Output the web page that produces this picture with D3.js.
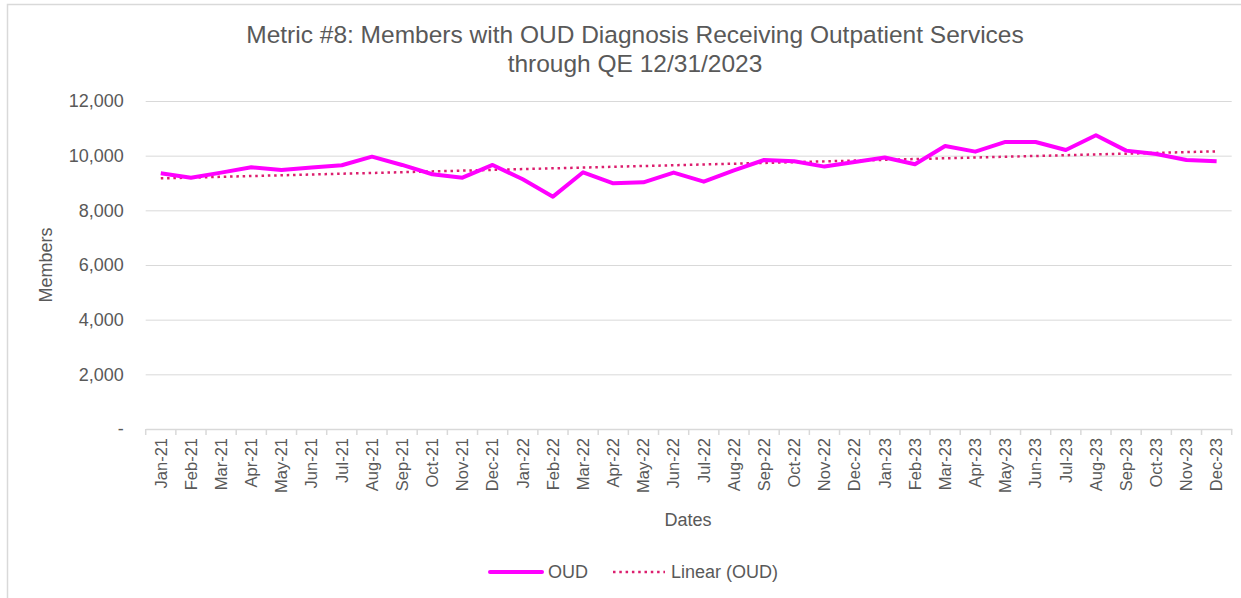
<!DOCTYPE html>
<html><head><meta charset="utf-8">
<script src="https://cdn.jsdelivr.net/npm/d3@7"></script>
<style>
body{margin:0;background:#fff;}
svg{display:block;font-family:"Liberation Sans",Arial,sans-serif;}
</style></head>
<body><svg id="c" width="1241" height="598"></svg>
<script>
const months = ["Jan-21","Feb-21","Mar-21","Apr-21","May-21","Jun-21","Jul-21","Aug-21","Sep-21","Oct-21","Nov-21","Dec-21",
"Jan-22","Feb-22","Mar-22","Apr-22","May-22","Jun-22","Jul-22","Aug-22","Sep-22","Oct-22","Nov-22","Dec-22",
"Jan-23","Feb-23","Mar-23","Apr-23","May-23","Jun-23","Jul-23","Aug-23","Sep-23","Oct-23","Nov-23","Dec-23"];
const oud = [9356,9195,9380,9576,9477,9566,9649,9964,9660,9319,9195,9660,
9136,8500,9392,8990,9026,9380,9049,9465,9842,9795,9600,9770,
9935,9685,10355,10147,10502,10502,10209,10746,10184,10062,9842,9795];
const yTicks = [0,2000,4000,6000,8000,10000,12000];
const titleLines = ["Metric #8: Members with OUD Diagnosis Receiving Outpatient Services","through QE 12/31/2023"];

const svg = d3.select("#c");
const txt = "#595959", grid = "#d9d9d9";
// chart border
svg.append("rect").attr("x",7.5).attr("y",4.5).attr("width",1260).attr("height",620)
  .attr("fill","none").attr("stroke",grid).attr("stroke-width",1.5);

const x = d3.scaleBand().domain(months).range([145.7,1231.7]).padding(0);
const y = d3.scaleLinear().domain([0,12000]).range([429,101]);
const cx = d => x(d) + x.bandwidth()/2;

// gridlines + y labels
const yAxis = d3.axisLeft(y).tickValues(yTicks).tickSize(-(1231.7-145.7)).tickPadding(22)
  .tickFormat(d => d===0 ? "-" : d3.format(",")(d));
const gy = svg.append("g").attr("transform","translate(145.7,0)").call(yAxis);
gy.select(".domain").remove();
gy.selectAll(".tick line").attr("stroke",grid).attr("stroke-width",1);
gy.selectAll(".tick text").attr("fill",txt).attr("font-size",18).attr("font-family","Liberation Sans, Arial, sans-serif");

// x axis
const xAxis = d3.axisBottom(x).tickSize(0).tickPadding(0);
const gx = svg.append("g").attr("transform","translate(0,429)").call(xAxis);
gx.select(".domain").attr("stroke",grid).attr("stroke-width",1.5);
gx.selectAll(".tick text").attr("fill",txt).attr("font-size",16.5).attr("font-family","Liberation Sans, Arial, sans-serif")
  .attr("text-anchor","end").attr("dy","0.35em").attr("transform","translate(0,9) rotate(-90)");
// tick marks at band boundaries
const bounds = months.map(m => x(m)).concat([x.range()[1]]);
svg.append("g").selectAll("line").data(bounds).join("line")
  .attr("x1",d=>d).attr("x2",d=>d).attr("y1",429).attr("y2",435)
  .attr("stroke",grid).attr("stroke-width",1.5);

// trend (least squares on the series)
const idx = oud.map((_,i)=>i);
const mx = d3.mean(idx), my = d3.mean(oud);
const slope = d3.sum(idx,i=>(i-mx)*(oud[i]-my))/d3.sum(idx,i=>(i-mx)*(i-mx));
const icpt = my - slope*mx;
const trend = idx.map(i=>icpt+slope*i);

const line = d3.line().x((d,i)=>cx(months[i])).y(d=>y(d));
svg.append("path").datum(trend).attr("d",line).attr("fill","none")
  .attr("stroke","#dc1e6e").attr("stroke-width",2.5).attr("stroke-dasharray","2.5,3.8");
svg.append("path").datum(oud).attr("d",line).attr("fill","none")
  .attr("stroke","#ff00ff").attr("stroke-width",4).attr("stroke-linejoin","round");

// title
svg.append("text").attr("x",635).attr("text-anchor","middle").attr("fill",txt).attr("font-size",24.5)
  .selectAll("tspan").data(titleLines).join("tspan").attr("x",635).attr("y",(d,i)=>43+i*29).text(d=>d);

// axis titles
svg.append("text").attr("transform","translate(52,265) rotate(-90)").attr("text-anchor","middle")
  .attr("fill",txt).attr("font-size",18).text("Members");
svg.append("text").attr("x",688).attr("y",526).attr("text-anchor","middle")
  .attr("fill",txt).attr("font-size",18).text("Dates");

// legend
const lg = svg.append("g");
lg.append("line").attr("x1",490).attr("x2",542).attr("y1",572).attr("y2",572)
  .attr("stroke","#ff00ff").attr("stroke-width",4).attr("stroke-linecap","round");
lg.append("text").attr("x",548).attr("y",578).attr("fill",txt).attr("font-size",18).text("OUD");
lg.append("line").attr("x1",613).attr("x2",665).attr("y1",572).attr("y2",572)
  .attr("stroke","#dc1e6e").attr("stroke-width",2.5).attr("stroke-dasharray","2.5,3.8");
lg.append("text").attr("x",671).attr("y",578).attr("fill",txt).attr("font-size",18).text("Linear (OUD)");
</script></body></html>
